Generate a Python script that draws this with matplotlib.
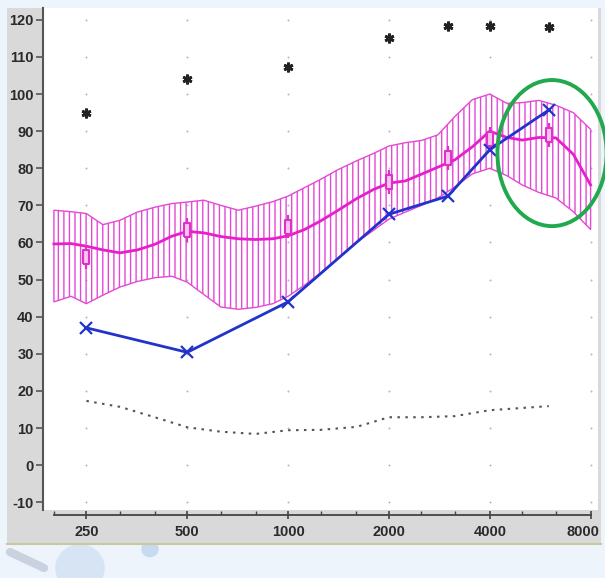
import numpy as np
import matplotlib.pyplot as plt
from matplotlib.patches import Rectangle, Ellipse, Circle
from matplotlib.lines import Line2D
from matplotlib.path import Path
from matplotlib.transforms import ScaledTranslation

plt.rcParams['font.family'] = ['Liberation Sans', 'DejaVu Sans']
plt.rcParams['hatch.linewidth'] = 1.0

# --- datos ---
freq_band = [200, 225, 250, 280, 315, 355, 400, 450, 500, 560, 630, 710, 800, 900,
             1000, 1120, 1250, 1400, 1600, 1800, 2000, 2240, 2500, 2800, 3150, 3550,
             4000, 4500, 5000, 5600, 6300, 7100, 8000]
band_mean = [59.6, 59.7, 59.0, 58.0, 57.2, 58.0, 59.5, 61.7, 63.0, 62.6, 61.6, 61.0, 60.8, 61.0,
             61.8, 63.5, 65.8, 68.5, 71.8, 74.3, 76.0, 76.6, 78.4, 80.3, 82.3, 85.8,
             90.0, 88.3, 87.6, 88.3, 88.2, 83.8, 75.5]
band_upper = [68.7, 68.3, 67.8, 64.8, 66.0, 68.2, 69.5, 70.5, 70.9, 71.4, 70.0, 68.7, 69.8, 71.0,
              72.5, 74.8, 77.0, 79.5, 82.0, 84.0, 86.0, 86.9, 87.5, 89.0, 94.0, 98.5,
              100.0, 97.5, 97.7, 98.3, 97.0, 95.0, 90.5]
band_lower = [44.0, 45.5, 43.5, 45.8, 48.0, 49.5, 50.5, 50.9, 49.3, 46.0, 42.6, 42.0, 42.5, 43.5,
              45.5, 48.5, 51.8, 55.5, 60.0, 63.3, 66.3, 68.2, 70.0, 72.0, 75.0, 78.5,
              80.0, 78.0, 75.5, 73.5, 72.0, 68.3, 63.5]

freq_pts = [250, 500, 1000, 2000, 3000, 4000, 6000]
avg_pts = [56.0, 63.3, 64.3, 76.4, 82.7, 87.8, 88.9]
avg_err = 3.2
measured = [37.0, 30.4, 44.0, 67.6, 72.5, 85.0, 95.7]
ucl = [95.0, 104.0, 107.3, 115.0, 118.3, 118.3, 118.1]

freq_dot = [250, 315, 400, 500, 630, 800, 1000, 1250, 1600, 2000, 2500, 3150, 4000, 5000, 6000]
dot_level = [17.3, 15.7, 12.9, 10.2, 9.0, 8.4, 9.4, 9.5, 10.3, 12.9, 12.9, 13.2, 14.8, 15.4, 15.9]

major_freqs = [250, 500, 1000, 2000, 4000, 8000]
major_labels = ['250', '500', '1000', '2000', '4000', '8000']
minor_freqs = [200, 315, 400, 630, 800, 1250, 1600, 2500, 3150, 5000, 6300]
levels = list(range(-10, 121, 10))

W, H = 605, 578
fig = plt.figure(figsize=(W / 100, H / 100), dpi=100)
fig.patch.set_facecolor('#EEF4FB')

# fondo decorativo inferior
fig.add_artist(Circle((80 / W, 1 - 568 / H), 24 / W, transform=fig.transFigure,
                      color='#D6E4F4', zorder=0))
fig.add_artist(Circle((150 / W, 1 - 549 / H), 8 / W, transform=fig.transFigure,
                      color='#C8DAF0', zorder=0))
fig.add_artist(Line2D([10 / W, 44 / W], [1 - 552 / H, 1 - 568 / H], transform=fig.transFigure,
                      color='#C9D3E0', lw=6, solid_capstyle='round', zorder=0))

# panel gris del grafico
fig.add_artist(Rectangle((7 / W, 1 - 543 / H), 594 / W, 535 / H, transform=fig.transFigure,
                         facecolor='#D9D9D9', edgecolor='none', zorder=0))
fig.add_artist(Line2D([7 / W, 601 / W], [1 - 544 / H, 1 - 544 / H], transform=fig.transFigure,
                      color='#C9C89C', lw=1.5, zorder=1))

ax = fig.add_axes([44 / W, 1 - 510 / H, 554 / W, 502 / H])
ax.set_facecolor('white')
ax.set_xscale('log', base=2)
ax.set_xlim(186.8, 8417)
ax.set_ylim(-12.1, 123.2)

# puntos de la rejilla
gx, gy = np.meshgrid(major_freqs, levels)
ax.scatter(gx.ravel(), gy.ravel(), s=2, color='#B5B5B5', linewidths=0, zorder=1)

# banda normativa rayada
ax.fill_between(freq_band, band_lower, band_upper, facecolor='none', edgecolor='#E24AD6',
                hatch='|||', linewidth=1.0, zorder=2)
ax.plot(freq_band, band_mean, color='#E61ECB', lw=2, zorder=3)

box = Path([(-0.42, -1), (0.42, -1), (0.42, 1), (-0.42, 1), (-0.42, -1)])
ax.errorbar(freq_pts, avg_pts, yerr=avg_err, fmt='none', ecolor='#E030C8', elinewidth=1.6, zorder=4)
ax.plot(freq_pts, avg_pts, linestyle='none', marker=box, markersize=10,
        markerfacecolor='#F7C6EE', markeredgecolor='#E030C8', markeredgewidth=1.5, zorder=5)

# curva medida
ax.plot(freq_pts, measured, color='#2233CC', lw=2, marker='x', markersize=8,
        markeredgewidth=1.6, zorder=6)

# umbral de molestia
ax.plot(freq_pts, ucl, linestyle='none', marker=(6, 2, 0), markersize=7,
        markeredgewidth=2, color='#222222', zorder=6)

# linea punteada inferior
ax.plot(freq_dot, dot_level, color='#555555', lw=1.5, dashes=(1.2, 2.6), zorder=3)

# circulo verde de resalte
ax.add_patch(Ellipse((0.917, 0.711), 0.197, 0.291, transform=ax.transAxes, fill=False,
                     edgecolor='#21A94D', lw=2.8, clip_on=False, zorder=7))

# ejes
for side in ['top', 'right']:
    ax.spines[side].set_visible(False)
ax.spines['left'].set_color('#555555')
ax.spines['left'].set_linewidth(1.5)
ax.spines['left'].set_position(('outward', 1))
ax.spines['bottom'].set_color('#444444')
ax.spines['bottom'].set_linewidth(1.3)
ax.spines['bottom'].set_position(('outward', 3.6))
ax.spines['bottom'].set_bounds(200, 8000)

ax.set_yticks(levels)
ax.set_yticklabels([str(v) for v in levels])
ax.tick_params(axis='y', direction='out', length=5, width=1.2, color='#555555', pad=1.5,
               labelsize=10.5, labelcolor='#2A2A2A')

ax.set_xticks(major_freqs)
ax.set_xticklabels(major_labels)
ax.set_xticks(minor_freqs, minor=True)
ax.xaxis.set_minor_formatter(plt.NullFormatter())
ax.tick_params(axis='x', which='major', direction='inout', length=6, width=1.2,
               color='#444444', pad=4, labelsize=10.5, labelcolor='#2A2A2A')
ax.tick_params(axis='x', which='minor', direction='in', length=3, width=1.0, color='#444444')
for lbl in ax.get_xticklabels() + ax.get_yticklabels():
    lbl.set_fontweight('bold')

# la etiqueta 8000 se corre a la izquierda para que quepa
last = ax.get_xticklabels()[-1]
last.set_transform(last.get_transform() + ScaledTranslation(-8 / 100, 0, fig.dpi_scale_trans))

fig.savefig('out.png', dpi=100, facecolor=fig.get_facecolor())
